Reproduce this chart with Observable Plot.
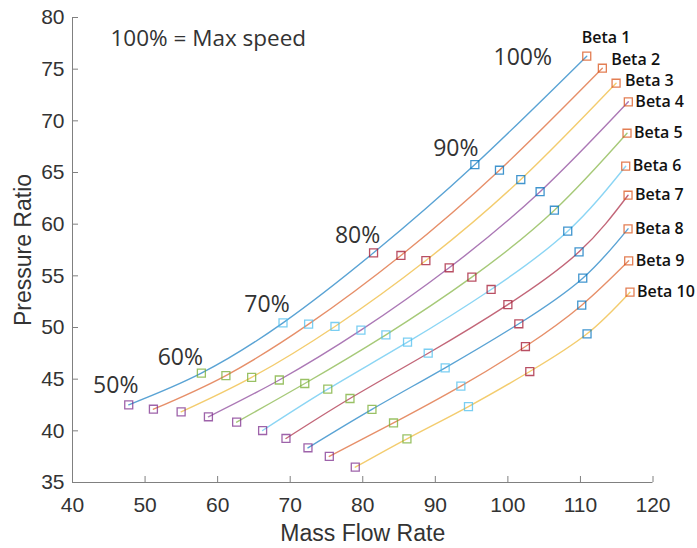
<!DOCTYPE html>
<html><head><meta charset="utf-8">
<script src="https://cdn.jsdelivr.net/npm/d3@7"></script>
<script src="https://cdn.jsdelivr.net/npm/@observablehq/plot@0.6"></script>
<style>body{margin:0;background:#fff}</style>
</head><body><div id="chart"></div>
<script>
// ---- data ----
const speeds = ["50%", "60%", "70%", "80%", "90%", "100%"];
const betas = ["Beta 1", "Beta 2", "Beta 3", "Beta 4", "Beta 5", "Beta 6", "Beta 7", "Beta 8", "Beta 9", "Beta 10"];

const flow50 = [47.75, 51.15, 54.97, 58.73, 62.62, 66.20, 69.42, 72.45, 75.39, 78.97];
const pr50   = [42.52, 42.09, 41.84, 41.36, 40.84, 40.03, 39.26, 38.36, 37.52, 36.48];
const flow60 = [57.76, 61.14, 64.69, 68.50, 72.01, 75.18, 78.24, 81.27, 84.24, 86.09];
const pr60   = [45.58, 45.35, 45.18, 44.92, 44.58, 44.03, 43.13, 42.08, 40.76, 39.23];
const flow70 = [69.01, 72.54, 76.17, 79.75, 83.19, 86.17, 89.02, 91.36, 93.52, 94.57];
const pr70   = [50.45, 50.32, 50.10, 49.74, 49.29, 48.58, 47.51, 46.10, 44.32, 42.35];
const flow80 = [81.49, 85.26, 88.70, 91.91, 95.04, 97.69, 100.00, 101.51, 102.42, 103.02];
const pr80   = [57.23, 56.97, 56.48, 55.78, 54.87, 53.68, 52.22, 50.36, 48.16, 45.74];
const flow90 = [95.45, 98.84, 101.78, 104.44, 106.41, 108.25, 109.81, 110.32, 110.18, 110.91];
const pr90   = [65.77, 65.22, 64.32, 63.14, 61.35, 59.32, 57.32, 54.77, 52.16, 49.39];
const flow100 = [110.87, 113.02, 114.91, 116.60, 116.42, 116.24, 116.56, 116.56, 116.65, 116.83];
const pr100   = [76.26, 75.09, 73.64, 71.84, 68.80, 65.61, 62.80, 59.55, 56.45, 53.42];

const xTicks = [40, 50, 60, 70, 80, 90, 100, 110, 120];
const yTicks = [35, 40, 45, 50, 55, 60, 65, 70, 75, 80];
const note = "100% = Max speed";

// ---- build table ----
const flows = [flow50, flow60, flow70, flow80, flow90, flow100];
const prs = [pr50, pr60, pr70, pr80, pr90, pr100];
const points = [];
speeds.forEach((s, j) => betas.forEach((b, i) =>
  points.push({speed: s, beta: b, bi: i, sj: j, flow: flows[j][i], pr: prs[j][i]})));

// ---- styles ----
const lineColors = ["#0072BD", "#D95319", "#EDB120", "#7E2F8E", "#77AC30", "#4DBEEE", "#A2142F", "#0072BD", "#D95319", "#EDB120"];
const markerColors = ["#7E2F8E", "#77AC30", "#4DBEEE", "#A2142F", "#0072BD", "#D95319"];
const speedOffsets = [[-13, -19], [-21, -16], [-16, -18], [-16, -17], [-19, -16], [-64, 1]];
const betaOffset = i => i === 0 ? [-5, -18] : i === 1 ? [9, -8] : i === 2 ? [9, -2] : [7, 0];
const labelFont = "'Open Sans', sans-serif";
const axisColor = "#808080";

const marks = [];
betas.forEach((b, i) => marks.push(Plot.line(points.filter(d => d.bi === i), {
  x: "flow", y: "pr", stroke: lineColors[i], strokeWidth: 1.4, strokeOpacity: 0.65, curve: "natural"
})));
speeds.forEach((s, j) => marks.push(Plot.dot(points.filter(d => d.sj === j), {
  x: "flow", y: "pr", symbol: "square", r: 4.5, stroke: markerColors[j], strokeWidth: 1.3, strokeOpacity: 0.75, fill: "none"
})));
speeds.forEach((s, j) => marks.push(Plot.text(points.filter(d => d.sj === j && d.bi === 0), {
  x: "flow", y: "pr", text: "speed", dx: speedOffsets[j][0], dy: speedOffsets[j][1],
  fontSize: 23, fontFamily: labelFont, fill: "#333"
})));
betas.forEach((b, i) => {
  const [dx, dy] = betaOffset(i);
  marks.push(Plot.text(points.filter(d => d.sj === 5 && d.bi === i), {
    x: "flow", y: "pr", text: "beta", dx, dy, textAnchor: "start",
    fontSize: 16, fontWeight: 600, fontFamily: labelFont, fill: "#111"
  }));
});
marks.push(Plot.text([note], {
  frameAnchor: "top-left", text: d => d, dx: 38, dy: 21, textAnchor: "start", lineAnchor: "middle",
  fontSize: 22.5, fontFamily: labelFont, fill: "#333"
}));
// axes
marks.push(Plot.ruleY([35], {stroke: axisColor}));
marks.push(Plot.ruleX([40], {stroke: axisColor}));
marks.push(Plot.axisX(xTicks, {tickSize: -6, tickPadding: 21, stroke: axisColor, fill: "#333", label: null}));
marks.push(Plot.axisY(yTicks, {tickSize: -6, tickPadding: 14, stroke: axisColor, fill: "#333", label: null}));
marks.push(Plot.text(["Mass Flow Rate"], {
  frameAnchor: "bottom", text: d => d, dy: 51, lineAnchor: "middle", textAnchor: "middle", fontSize: 23, fill: "#333"
}));
marks.push(Plot.text(["Pressure Ratio"], {
  frameAnchor: "left", text: d => d, dx: -49, rotate: -90, lineAnchor: "middle", textAnchor: "middle", fontSize: 23, fill: "#333"
}));

const chart = Plot.plot({
  width: 697,
  height: 548,
  marginLeft: 72,
  marginRight: 44.5,
  marginTop: 17,
  marginBottom: 66,
  x: {domain: [40, 120]},
  y: {domain: [35, 80]},
  style: {fontFamily: "'Liberation Sans', Arial, sans-serif", fontSize: "21px", background: "#fff", overflow: "visible"},
  marks
});
document.getElementById("chart").appendChild(chart);
</script>
</body></html>
